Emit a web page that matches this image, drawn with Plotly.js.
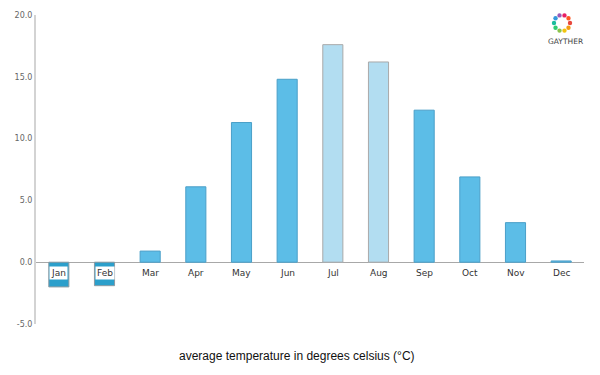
<!DOCTYPE html>
<html><head><meta charset="utf-8">
<script src="https://cdn.plot.ly/plotly-3.0.1.min.js"></script>
<style>html,body{margin:0;padding:0;background:#fff}#chart{width:600px;height:375px}</style>
</head><body><div id="chart"></div>
<script>
const months = ['Jan','Feb','Mar','Apr','May','Jun','Jul','Aug','Sep','Oct','Nov','Dec'];
const temps = [-2.0, -1.9, 0.9, 6.1, 11.3, 14.8, 17.6, 16.2, 12.3, 6.9, 3.2, 0.1];
const yTicks = [-5, 0, 5, 10, 15, 20];
const yTickText = ['-5.0','0.0','5.0','10.0','15.0','20.0'];

function fill(v, i){ if (v < 0) return '#2b9fcb'; if (i===6||i===7) return '#b2ddf1'; return '#5cbde7'; }
function edge(v, i){ if (i===6||i===7) return '#a9a9a9'; if (v<0) return '#8a9aa3'; return '#4a9fc8'; }

const trace = {
  type:'bar', x: months, y: temps, width: 0.44,
  marker:{color: temps.map(fill), line:{color: temps.map(edge), width:1}},
  hoverinfo:'none'
};

const annotations = months.map((m,i)=>({
  x:m, y:0, xref:'x', yref:'y', yanchor:'top', yshift:-4, showarrow:false,
  text:m, font:{family:'DejaVu Sans, sans-serif', size:9, color:'#333'},
  bgcolor: temps[i] < 0 ? '#ffffff' : 'rgba(0,0,0,0)', borderpad:1
}));
annotations.push({x:(297-36)/548, y:-0.075, xref:'paper', yref:'paper', yanchor:'top', xanchor:'center', showarrow:false,
  text:'average temperature in degrees celsius (°C)', font:{family:'Liberation Sans, Arial', size:12, color:'#111'}});
annotations.push({x:(565-36)/548, y:1-(42-15)/309, xref:'paper', yref:'paper', xanchor:'center', yanchor:'middle', showarrow:false,
  text:'GAYTHER', font:{family:'DejaVu Sans, sans-serif', size:7.5, color:'#444'}});

// logo ring
const logoColors = ['#e8473c','#f39c12','#f1c40f','#8bc34a','#2ecc71','#1abc9c','#3498db','#9b59b6','#e91e63','#ff5722'];
const shapes = [];
const cx = 562, cy = 23, R = 8;
for (let k=0;k<logoColors.length;k++){
  const a = 2*Math.PI*k/logoColors.length;
  const px = cx + R*Math.cos(a), py = cy + R*Math.sin(a);
  shapes.push({type:'circle', xref:'paper', yref:'paper', xsizemode:'pixel', ysizemode:'pixel',
    xanchor:(px-36)/548, yanchor:1-(py-15)/309, x0:-2.2, x1:2.2, y0:-2.2, y1:2.2,
    fillcolor:logoColors[k], line:{width:0}});
}

const layout = {
  width:600, height:375, margin:{l:36, r:16, t:15, b:51},
  paper_bgcolor:'#fff', plot_bgcolor:'#fff', showlegend:false,
  xaxis:{showticklabels:false, showgrid:false, zeroline:false, showline:false, ticks:'', fixedrange:true},
  yaxis:{range:[-5,20], tickvals:yTicks, ticktext:yTickText, showgrid:false,
    zeroline:true, zerolinecolor:'#a8a8a8', zerolinewidth:1,
    showline:true, linecolor:'#d3d3d3', linewidth:2, ticks:'', ticklen:0,
    tickfont:{family:'DejaVu Sans, sans-serif', size:8, color:'#666'}},
  annotations: annotations, shapes: shapes
};
Plotly.newPlot('chart', [trace], layout, {displayModeBar:false, staticPlot:true});
</script></body></html>
